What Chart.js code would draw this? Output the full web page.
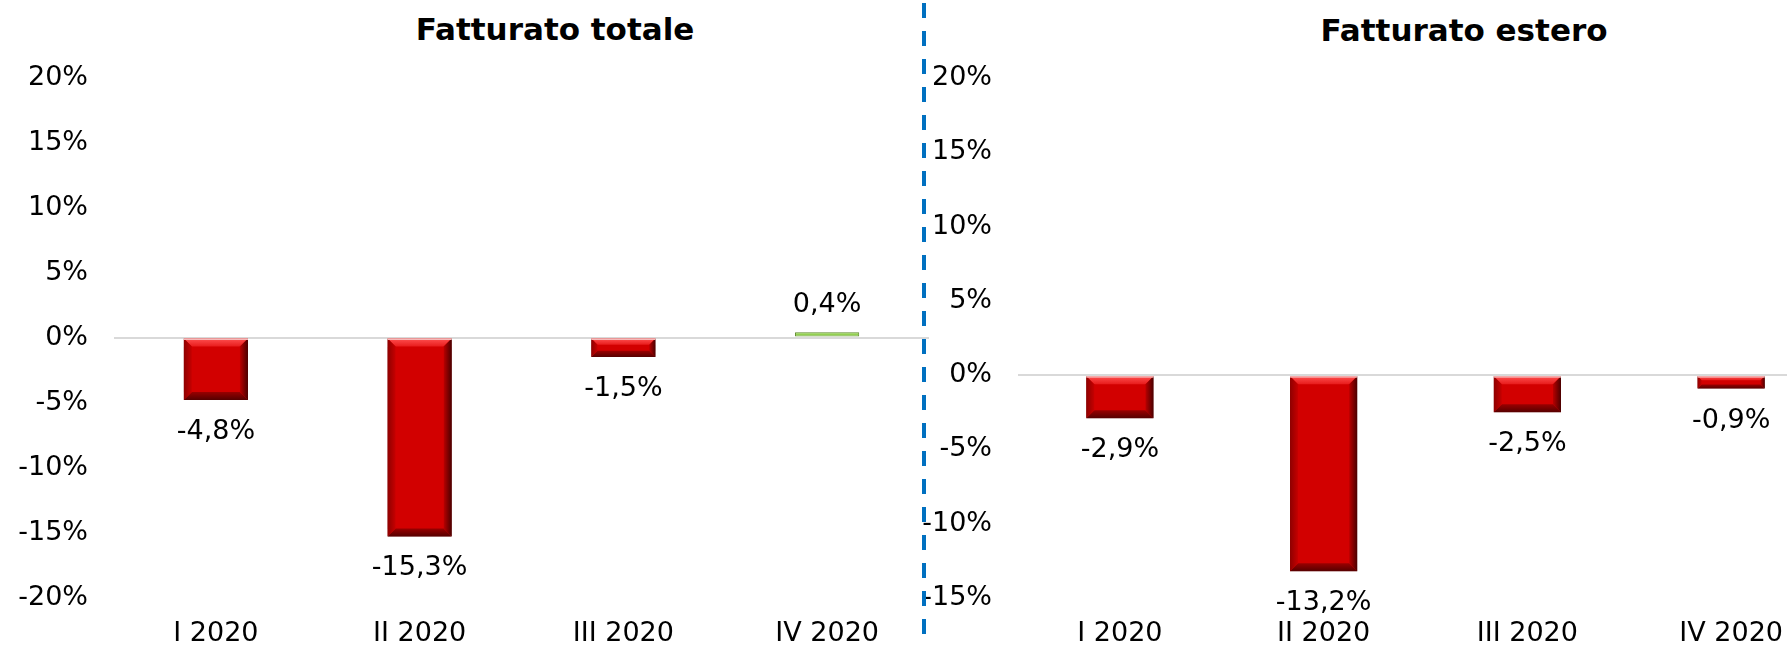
<!DOCTYPE html>
<html lang="it">
<head>
    <meta charset="UTF-8">
    <title>Fatturato 2020</title>
    <script src="https://cdn.jsdelivr.net/npm/chart.js"></script>
    <style>
        html, body { margin: 0; padding: 0; background: #ffffff; }
        body { position: relative; width: 1787px; height: 646px; overflow: hidden; font-family: "DejaVu Sans", Verdana, sans-serif; }
        .chart-title { position: absolute; transform: translate(-50%, -50%); font-weight: bold; font-size: 31px; line-height: 1; color: #000; white-space: nowrap; }
        #divider { position: absolute; left: 922px; top: 3px; width: 4px; height: 643px; z-index: 5;
            background: repeating-linear-gradient(to bottom, #0070C0 0px, #0070C0 15px, transparent 15px, transparent 28px); }
        canvas { position: absolute; top: 0; }
    </style>
</head>
<body>
    <div class="chart-title" style="left: 555px; top: 29px;">Fatturato totale</div>
    <div class="chart-title" style="left: 1464px; top: 30px;">Fatturato estero</div>
    <div id="divider"></div>

    <canvas id="totaleChart" width="929" height="646" style="left: 0px;"></canvas>
    <canvas id="esteroChart" width="933" height="646" style="left: 900px;"></canvas>

    <script type="text/javascript">
        // data (percent change, 2020 quarters)
        var quarters = ['I 2020', 'II 2020', 'III 2020', 'IV 2020'];
        var fatturatoTotale = [-4.8, -15.3, -1.5, 0.4];
        var fatturatoEstero = [-2.9, -13.2, -2.5, -0.9];
        var totaleRange = [-20, 20];
        var esteroRange = [-15, 20];
        var tickStep = 5;

        var textFont = { family: 'DejaVu Sans', size: 27 };

        function fmtPct(v) {
            return v.toFixed(1).replace('.', ',') + '%';
        }

        // red bars get an Excel-like bevel drawn over them
        var bevelPlugin = {
            id: 'bevel',
            afterDatasetsDraw(chart) {
                var ctx = chart.ctx;
                var values = chart.data.datasets[0].data;
                chart.getDatasetMeta(0).data.forEach(function (bar, i) {
                    if (values[i] >= 0) return;
                    var p = bar.getProps(['x', 'y', 'base', 'width'], true);
                    var l = p.x - p.width / 2, r = p.x + p.width / 2;
                    var t = Math.min(p.y, p.base), b = Math.max(p.y, p.base);
                    var bv = Math.min(8, (b - t) / 3);
                    ctx.save();

                    var g = ctx.createLinearGradient(0, t, 0, t + bv);
                    g.addColorStop(0, '#ff5050');
                    g.addColorStop(1, '#e81c1c');
                    ctx.fillStyle = g;
                    ctx.beginPath();
                    ctx.moveTo(l, t); ctx.lineTo(r, t); ctx.lineTo(r - bv, t + bv); ctx.lineTo(l + bv, t + bv);
                    ctx.closePath(); ctx.fill();

                    g = ctx.createLinearGradient(0, b - bv, 0, b);
                    g.addColorStop(0, '#9a0000');
                    g.addColorStop(1, '#560000');
                    ctx.fillStyle = g;
                    ctx.beginPath();
                    ctx.moveTo(l, b); ctx.lineTo(r, b); ctx.lineTo(r - bv, b - bv); ctx.lineTo(l + bv, b - bv);
                    ctx.closePath(); ctx.fill();

                    g = ctx.createLinearGradient(l, 0, l + bv, 0);
                    g.addColorStop(0, '#8e0000');
                    g.addColorStop(1, '#c60000');
                    ctx.fillStyle = g;
                    ctx.beginPath();
                    ctx.moveTo(l, t); ctx.lineTo(l + bv, t + bv); ctx.lineTo(l + bv, b - bv); ctx.lineTo(l, b);
                    ctx.closePath(); ctx.fill();

                    g = ctx.createLinearGradient(r - bv, 0, r, 0);
                    g.addColorStop(0, '#b80000');
                    g.addColorStop(1, '#4a0000');
                    ctx.fillStyle = g;
                    ctx.beginPath();
                    ctx.moveTo(r, t); ctx.lineTo(r - bv, t + bv); ctx.lineTo(r - bv, b - bv); ctx.lineTo(r, b);
                    ctx.closePath(); ctx.fill();

                    // light edge on the zero line
                    ctx.fillStyle = '#f6b8b8';
                    ctx.fillRect(l, t, r - l, 1.5);
                    ctx.restore();
                });
            }
        };

        // value labels at the outer end of each bar
        var valueLabelPlugin = {
            id: 'valueLabels',
            afterDatasetsDraw(chart) {
                var ctx = chart.ctx;
                var values = chart.data.datasets[0].data;
                ctx.save();
                ctx.font = textFont.size + 'px "' + textFont.family + '"';
                ctx.fillStyle = '#000000';
                ctx.textAlign = 'center';
                ctx.textBaseline = 'middle';
                chart.getDatasetMeta(0).data.forEach(function (bar, i) {
                    var v = values[i];
                    var y = v < 0 ? bar.y + 32 : bar.y - 27;
                    ctx.fillText(fmtPct(v), bar.x, y);
                });
                ctx.restore();
            }
        };

        function makeChart(canvasId, values, range, opts) {
            return new Chart(document.getElementById(canvasId), {
                type: 'bar',
                data: {
                    labels: quarters,
                    datasets: [{
                        data: values,
                        backgroundColor: function (c) { return c.raw >= 0 ? '#92d050' : '#d20000'; },
                        borderColor: function (c) { return c.raw >= 0 ? '#5f8a2c' : '#7a0000'; },
                        borderWidth: 1,
                        borderSkipped: false,
                        barPercentage: 1,
                        categoryPercentage: opts.barShare
                    }]
                },
                options: {
                    responsive: false,
                    animation: false,
                    layout: { padding: { top: opts.top, right: 0, bottom: 0, left: 0 } },
                    plugins: {
                        legend: { display: false },
                        tooltip: { enabled: false }
                    },
                    scales: {
                        x: {
                            grid: { display: false },
                            border: { display: false },
                            ticks: { font: textFont, color: '#000000', padding: 12, maxRotation: 0, autoSkip: false },
                            afterFit: function (s) { s.height = 646 - opts.bottom; }
                        },
                        y: {
                            min: range[0],
                            max: range[1],
                            border: { display: false },
                            grid: {
                                drawTicks: false,
                                lineWidth: 2,
                                color: function (c) { return c.tick.value === 0 ? '#d9d9d9' : 'rgba(0,0,0,0)'; }
                            },
                            ticks: {
                                stepSize: tickStep,
                                padding: 26,
                                font: textFont,
                                color: '#000000',
                                callback: function (v) { return v + '%'; }
                            },
                            afterFit: function (s) { s.width = opts.axisWidth; }
                        }
                    }
                },
                plugins: [bevelPlugin, valueLabelPlugin]
            });
        }

        var totaleChart = makeChart('totaleChart', fatturatoTotale, totaleRange,
            { top: 77.5, bottom: 597.5, axisWidth: 114, barShare: 0.315 });
        var esteroChart = makeChart('esteroChart', fatturatoEstero, esteroRange,
            { top: 78, bottom: 598, axisWidth: 118, barShare: 0.33 });
    </script>
</body>
</html>
